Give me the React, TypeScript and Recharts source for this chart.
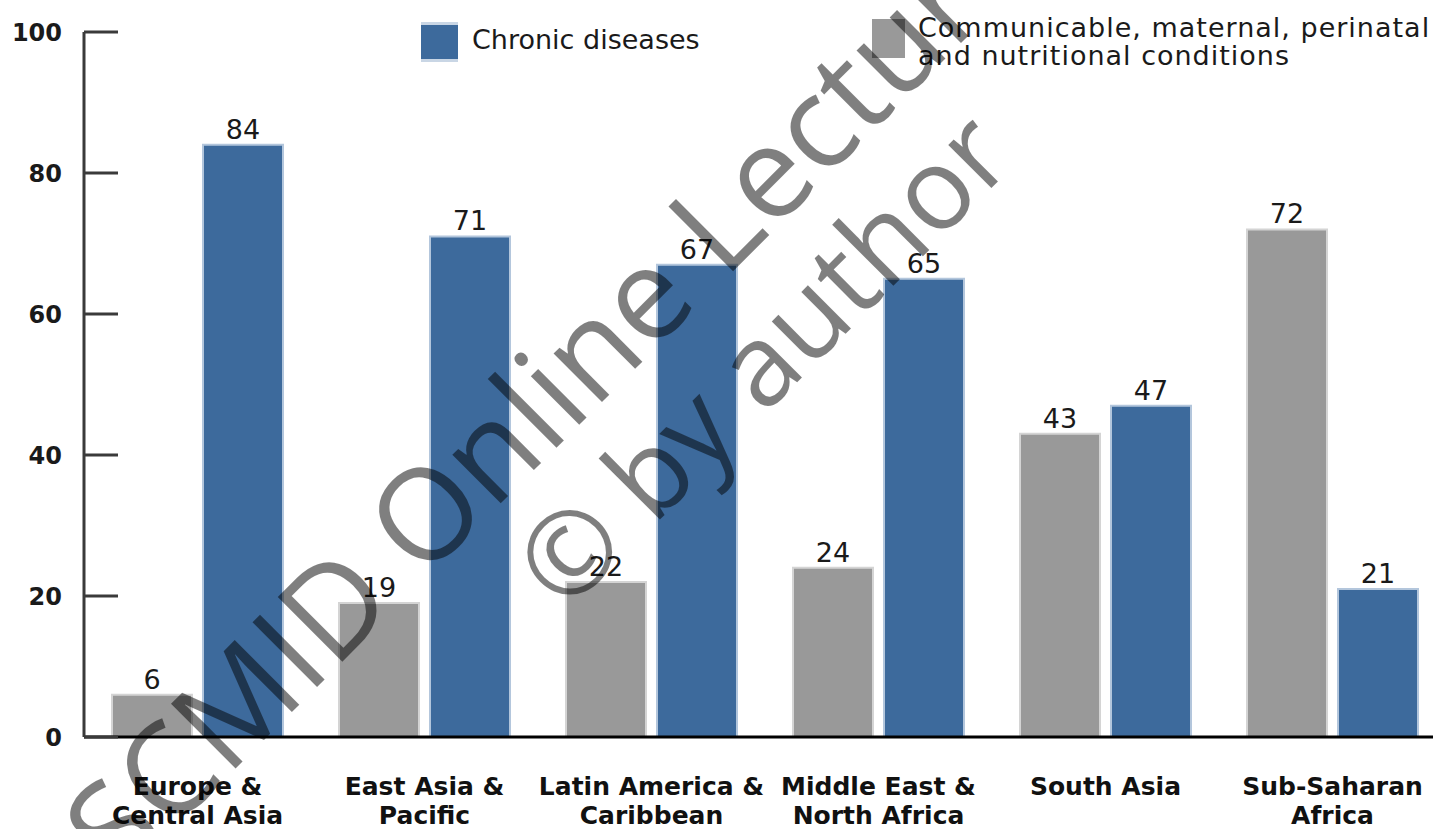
import { BarChart, Bar, XAxis, YAxis, LabelList } from "recharts"

const regions = [
  "Europe &\nCentral Asia",
  "East Asia &\nPacific",
  "Latin America &\nCaribbean",
  "Middle East &\nNorth Africa",
  "South Asia",
  "Sub-Saharan\nAfrica",
]
const communicable = [6, 19, 22, 24, 43, 72]
const chronic = [84, 71, 67, 65, 47, 21]
const yTicks = [0, 20, 40, 60, 80, 100]
const chronicName = "Chronic diseases"
const communicableName = [
  "Communicable, maternal, perinatal",
  "and nutritional conditions",
]

const data = regions.map((region, i) => ({
  region,
  communicable: communicable[i],
  chronic: chronic[i],
}))

const BLUE = "#3d6a9c"
const GRAY = "#999999"
const FONT = "'DejaVu Sans', sans-serif"

function RegionTick({ x, y, payload }: any) {
  const lines = String(payload.value).split("\n")
  return (
    <text
      x={x}
      y={y}
      textAnchor="middle"
      fontFamily={FONT}
      fontSize={25}
      fontWeight="bold"
      fill="#111"
    >
      {lines.map((line, i) => (
        <tspan key={i} x={x} dy={i === 0 ? 58 : 29}>
          {line}
        </tspan>
      ))}
    </text>
  )
}

export default function App() {
  return (
    <div
      style={{
        position: "fixed",
        left: 0,
        top: 0,
        width: 1433,
        height: 829,
        overflow: "hidden",
        background: "#fff",
      }}
    >
      <BarChart
        width={1450}
        height={829}
        data={data}
        margin={{ top: 32, right: 4, left: 0, bottom: 0 }}
        barSize={80}
        barGap={11}
      >
        <Bar
          dataKey="communicable"
          fill={GRAY}
          stroke="#d4d4d4"
          strokeWidth={2}
          isAnimationActive={false}
        >
          <LabelList
            dataKey="communicable"
            position="top"
            offset={6}
            fontSize={27}
            fontFamily={FONT}
            fill="#1a1a1a"
          />
        </Bar>
        <Bar
          dataKey="chronic"
          fill={BLUE}
          stroke="#b3c6dc"
          strokeWidth={2}
          isAnimationActive={false}
        >
          <LabelList
            dataKey="chronic"
            position="top"
            offset={6}
            fontSize={27}
            fontFamily={FONT}
            fill="#1a1a1a"
          />
        </Bar>
        <XAxis
          dataKey="region"
          height={92}
          interval={0}
          tickLine={false}
          tickSize={0}
          tickMargin={0}
          axisLine={{ stroke: "#000", strokeWidth: 3 }}
          tick={<RegionTick />}
        />
        <YAxis
          width={84}
          domain={[0, 100]}
          ticks={yTicks}
          tickSize={-34}
          tickMargin={56}
          axisLine={{ stroke: "#3a3a3a", strokeWidth: 3 }}
          tickLine={{ stroke: "#3a3a3a", strokeWidth: 3 }}
          tick={{
            fontSize: 24,
            fontWeight: "bold",
            fill: "#1a1a1a",
            fontFamily: FONT,
          }}
        />
      </BarChart>

      <svg
        width={1433}
        height={829}
        style={{ position: "absolute", left: 0, top: 0, pointerEvents: "none" }}
      >
        {/* legend */}
        <rect x={421} y={22} width={37} height={40} fill="#c9d6e5" />
        <rect x={421} y={25} width={37} height={34} fill={BLUE} />
        <text x={472} y={49} fontFamily={FONT} fontSize={27} fill="#1a1a1a">
          {chronicName}
        </text>
        <rect x={872} y={19} width={33} height={39} fill={GRAY} />
        {communicableName.map((line, i) => (
          <text
            key={i}
            x={918}
            y={37 + i * 28}
            fontFamily={FONT}
            fontSize={27}
            letterSpacing={1}
            fill="#1a1a1a"
          >
            {line}
          </text>
        ))}

        {/* watermark */}
        <g
          transform="rotate(-45)"
          fill="#000"
          fillOpacity={0.5}
          fontFamily="'Open Sans', sans-serif"
        >
          <text x={-540} y={710} fontSize={128}>
            SCMID Online Lecture
          </text>
          <text x={-35} y={834} fontSize={114}>
            © by author
          </text>
        </g>
      </svg>
    </div>
  )
}
